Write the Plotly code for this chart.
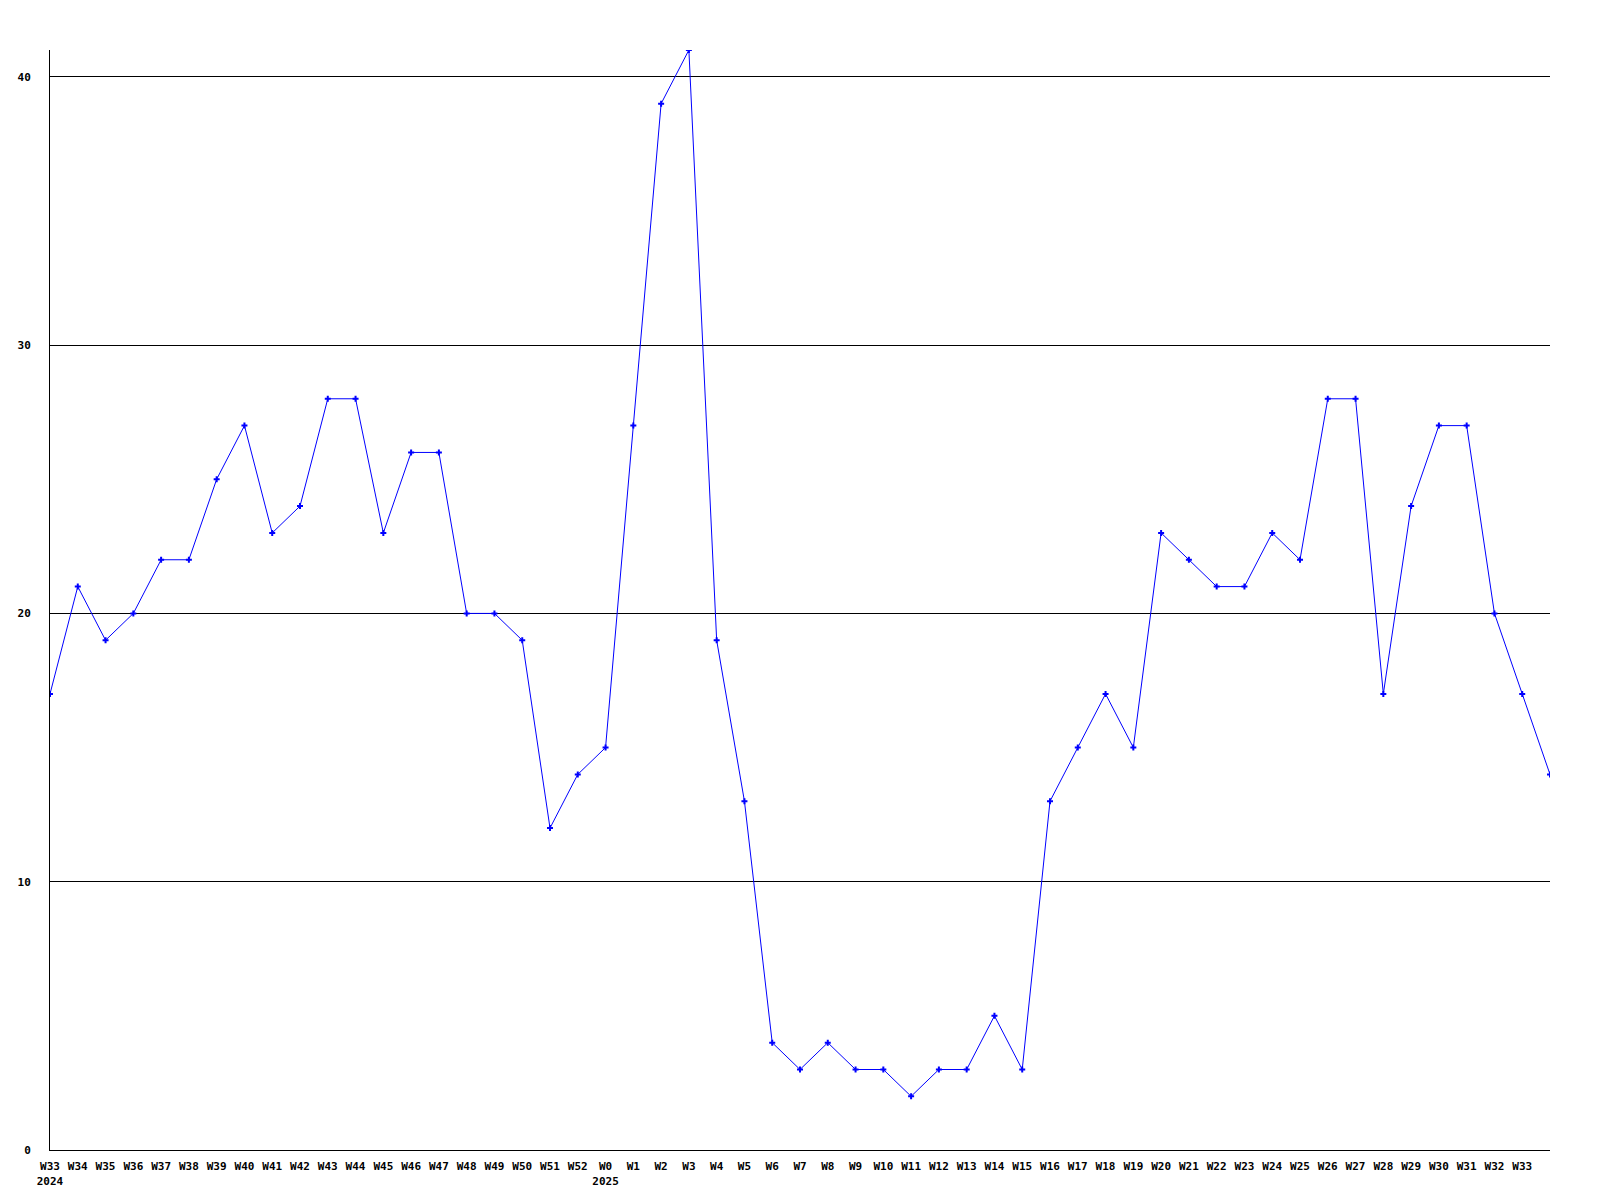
import plotly.graph_objects as go

weeks = ["W33<br>2024", "W34", "W35", "W36", "W37", "W38", "W39", "W40", "W41", "W42",
         "W43", "W44", "W45", "W46", "W47", "W48", "W49", "W50", "W51", "W52",
         "W0<br>2025", "W1", "W2", "W3", "W4", "W5", "W6", "W7", "W8", "W9",
         "W10", "W11", "W12", "W13", "W14", "W15", "W16", "W17", "W18", "W19",
         "W20", "W21", "W22", "W23", "W24", "W25", "W26", "W27", "W28", "W29",
         "W30", "W31", "W32", "W33", ""]
values = [17, 21, 19, 20, 22, 22, 25, 27, 23, 24,
          28, 28, 23, 26, 26, 20, 20, 19, 12, 14,
          15, 27, 39, 41, 19, 13, 4, 3, 4, 3,
          3, 2, 3, 3, 5, 3, 13, 15, 17, 15,
          23, 22, 21, 21, 23, 22, 28, 28, 17, 24,
          27, 27, 20, 17, 14]
y_ticks = [0, 10, 20, 30, 40]

x = list(range(len(values)))
font = dict(family="DejaVu Sans Mono", size=11, color="black", weight="bold")

fig = go.Figure(go.Scatter(
    x=x, y=values, mode="lines+markers",
    line=dict(color="#0000ff", width=1),
    marker=dict(color="#0000ff", size=5, symbol="cross"),
))
fig.update_layout(
    width=1600, height=1200,
    margin=dict(l=42, r=58, t=42, b=58),
    paper_bgcolor="white", plot_bgcolor="white",
    showlegend=False,
    font=font,
)
fig.update_xaxes(
    range=[0, len(values) - 1], tickmode="array", tickvals=x, ticktext=weeks,
    showgrid=False, zeroline=False, showline=True, linecolor="black", linewidth=1,
    ticks="", tickangle=0, tickfont=font, ticklabelstandoff=6, automargin=False,
)
fig.update_yaxes(
    range=[0, 41], tickmode="array", tickvals=y_ticks,
    showgrid=True, gridcolor="black", gridwidth=1, zeroline=False,
    showline=True, linecolor="black", linewidth=1,
    ticks="", tickfont=font, ticklabelstandoff=16, automargin=False,
)
fig.write_html("out.html")
